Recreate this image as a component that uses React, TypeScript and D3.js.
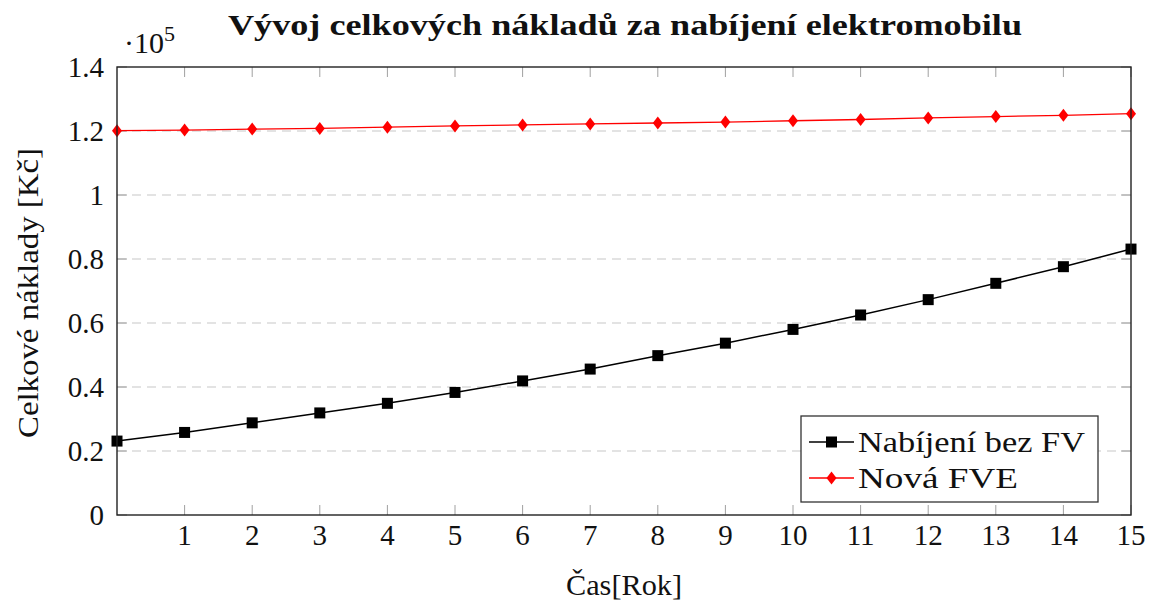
import * as d3 from 'd3'

const years = [0, 1, 2, 3, 4, 5, 6, 7, 8, 9, 10, 11, 12, 13, 14, 15]
const bezFV = [23100, 25800, 28800, 31900, 34900, 38300, 41900, 45600, 49800, 53700, 58000, 62500, 67300, 72400, 77600, 83100]
const novaFVE = [120100, 120300, 120600, 120800, 121200, 121600, 121900, 122200, 122500, 122800, 123200, 123600, 124100, 124500, 124900, 125400]
const xTicks = [1, 2, 3, 4, 5, 6, 7, 8, 9, 10, 11, 12, 13, 14, 15]
const yTicks = [0, 20000, 40000, 60000, 80000, 100000, 120000, 140000]
const yTickLabels = ['0', '0.2', '0.4', '0.6', '0.8', '1', '1.2', '1.4']
const seriesNames = ['Nabíjení bez FV', 'Nová FVE']

const W = 1156
const H = 606
const LEFT = 117
const RIGHT = 1131
const TOP = 67
const BOTTOM = 515
const FONT = '"Liberation Serif", "DejaVu Serif", serif'
const TICK = 10

export default function App() {
  const x = d3.scaleLinear().domain([0, 15]).range([LEFT, RIGHT])
  const y = d3.scaleLinear().domain([0, 140000]).range([BOTTOM, TOP])

  const line = d3
    .line<number>()
    .x((_, i) => x(years[i]))
    .y((d) => y(d))

  const diamond = (cx: number, cy: number) =>
    `M${cx},${cy - 6.5}L${cx + 5},${cy}L${cx},${cy + 6.5}L${cx - 5},${cy}Z`

  return (
    <svg
      width={W}
      height={H}
      style={{ position: 'absolute', left: 0, top: 0, background: '#fff' }}
      fontFamily={FONT}
    >
      {/* grid */}
      {yTicks
        .filter((t) => t > 0 && t < 140000)
        .map((t) => (
          <line
            key={'g' + t}
            x1={LEFT}
            x2={RIGHT}
            y1={y(t)}
            y2={y(t)}
            stroke="#c8c8c8"
            strokeWidth={1.2}
            strokeDasharray="9 6"
          />
        ))}

      {/* ticks, inward on all four sides */}
      {xTicks.map((t) => (
        <g key={'xt' + t} stroke="#a0a0a0" strokeWidth={1}>
          <line x1={x(t)} x2={x(t)} y1={BOTTOM} y2={BOTTOM - TICK} />
          <line x1={x(t)} x2={x(t)} y1={TOP} y2={TOP + TICK} />
        </g>
      ))}
      {yTicks.map((t) => (
        <g key={'yt' + t} stroke="#a0a0a0" strokeWidth={1}>
          <line x1={LEFT} x2={LEFT + TICK} y1={y(t)} y2={y(t)} />
          <line x1={RIGHT} x2={RIGHT - TICK} y1={y(t)} y2={y(t)} />
        </g>
      ))}

      {/* series */}
      <path d={line(bezFV) ?? ''} fill="none" stroke="#000" strokeWidth={1.5} />
      <path d={line(novaFVE) ?? ''} fill="none" stroke="#ff0000" strokeWidth={1.3} />
      {bezFV.map((v, i) => (
        <rect key={'s' + i} x={x(years[i]) - 5.5} y={y(v) - 5.5} width={11} height={11} fill="#000" />
      ))}
      {novaFVE.map((v, i) => (
        <path key={'d' + i} d={diamond(x(years[i]), y(v))} fill="#ff0000" />
      ))}

      {/* frame */}
      <rect
        x={LEFT}
        y={TOP}
        width={RIGHT - LEFT}
        height={BOTTOM - TOP}
        fill="none"
        stroke="#222"
        strokeWidth={1.4}
      />

      {/* tick labels */}
      {xTicks.map((t) => (
        <text key={'xl' + t} x={x(t)} y={545} textAnchor="middle" fontSize={29} fill="#111">
          {t}
        </text>
      ))}
      {yTicks.map((t, i) => (
        <text
          key={'yl' + t}
          x={104}
          y={y(t) + 10}
          textAnchor="end"
          fontSize={29}
          fill="#111"
        >
          {yTickLabels[i]}
        </text>
      ))}
      <text x={124} y={53} fontSize={30} fill="#111">
        ·10
        <tspan dy={-12} fontSize={22}>
          5
        </tspan>
      </text>

      {/* legend */}
      <rect x={801} y={416} width={297} height={86} fill="#fff" stroke="#333" strokeWidth={1.3} />
      <line x1={809} x2={854} y1={442} y2={442} stroke="#000" strokeWidth={1.5} />
      <rect x={826} y={436.5} width={11} height={11} fill="#000" />
      <line x1={809} x2={854} y1={478} y2={478} stroke="#ff0000" strokeWidth={1.3} />
      <path d={diamond(831.5, 478)} fill="#ff0000" />
      <text x={858} y={452} fontSize={30} fill="#111" textLength={227} lengthAdjust="spacingAndGlyphs">
        {seriesNames[0]}
      </text>
      <text x={858} y={488} fontSize={30} fill="#111" textLength={160} lengthAdjust="spacingAndGlyphs">
        {seriesNames[1]}
      </text>

      {/* axis titles */}
      <text
        x={624}
        y={595}
        textAnchor="middle"
        fontSize={30}
        fill="#111"
        textLength={116}
        lengthAdjust="spacingAndGlyphs"
      >
        Čas[Rok]
      </text>
      <text
        transform="translate(38,293) rotate(-90)"
        textAnchor="middle"
        fontSize={30}
        fill="#111"
        textLength={290}
        lengthAdjust="spacingAndGlyphs"
      >
        Celkové náklady [Kč]
      </text>

      {/* title */}
      <text
        x={625}
        y={35}
        textAnchor="middle"
        fontSize={30}
        fontWeight={700}
        fill="#111"
        textLength={794}
        lengthAdjust="spacingAndGlyphs"
      >
        Vývoj celkových nákladů za nabíjení elektromobilu
      </text>
    </svg>
  )
}
